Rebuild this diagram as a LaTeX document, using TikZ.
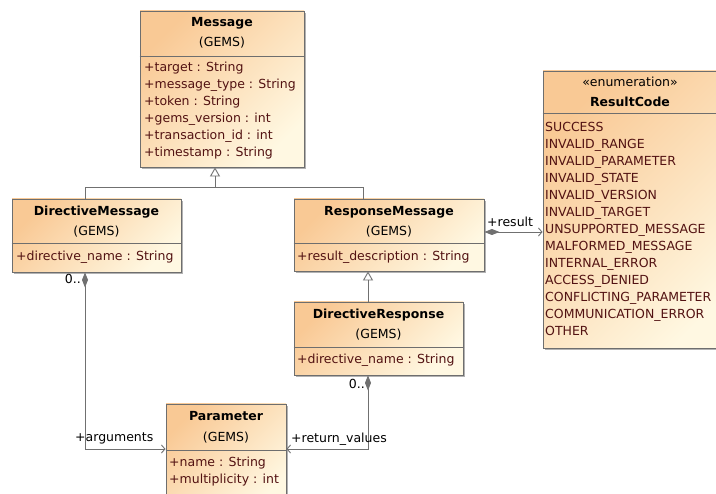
\documentclass[tikz,border=0pt]{standalone}
\usepackage{fontspec}
\setmainfont{DejaVu Sans}
\usetikzlibrary{arrows.meta,shadows}
\definecolor{orA}{HTML}{F9C995}
\definecolor{crB}{HTML}{FFF8E2}
\definecolor{bordc}{HTML}{6E6E6E}
\definecolor{attc}{HTML}{521212}
\definecolor{linec}{HTML}{707070}
\begin{document}
\begin{tikzpicture}[x=1pt,y=-1pt,
  cls/.style={draw=bordc, line width=0.9pt, rectangle, inner sep=0pt,
    top color=orA, bottom color=crB, shading angle=45,
    drop shadow={shadow xshift=1.8pt, shadow yshift=-1.8pt, fill=black, opacity=0.3}},
  sep/.style={draw=bordc, line width=0.8pt},
  txt/.style={font=\fontsize{12.5}{14}\selectfont, inner sep=0pt, text height=10pt, text depth=2pt},
  ttl/.style={txt, font=\fontsize{12.5}{14}\selectfont\bfseries, text=black},
  pkg/.style={txt, text=black},
  att/.style={txt, text=attc, anchor=west},
  lbl/.style={txt, text=black},
  conn/.style={draw=linec, line width=0.9pt},
  gen/.style={conn, -{Triangle[open, length=9pt, width=10pt, fill=white]}},
  comp/.style={conn, {Diamond[length=15pt, width=6pt, fill=linec]}-{Straight Barb[length=3.5pt, width=8pt]}},
]
\useasboundingbox[fill=white] (0,0) rectangle (716,494);

% ---------- Message ----------
\node[cls, minimum width=164pt, minimum height=156pt] (msg) at (222,89) {};
\draw[sep] (msg.west |- 0,56) -- (msg.east |- 0,56);
\node[ttl] (msgt) at (222,23) {Message};
\node[pkg] (msgp) at (222,43) {(GEMS)};
\node[att] (msga1) at (144,68) {+target : String};
\node[att] (msga2) at (144,85) {+message\_type : String};
\node[att] (msga3) at (144,102) {+token : String};
\node[att] (msga4) at (144,119) {+gems\_version : int};
\node[att] (msga5) at (144,136) {+transaction\_id : int};
\node[att] (msga6) at (144,153) {+timestamp : String};

% ---------- DirectiveMessage ----------
\node[cls, minimum width=169pt, minimum height=73pt] (dm) at (96.5,235.5) {};
\draw[sep] (dm.west |- 0,243) -- (dm.east |- 0,243);
\node[ttl] (dmt) at (96.5,212) {DirectiveMessage};
\node[pkg] (dmp) at (96.5,232) {(GEMS)};
\node[att] (dma1) at (16,257) {+directive\_name : String};

% ---------- ResponseMessage ----------
\node[cls, minimum width=190pt, minimum height=72pt] (rm) at (389,235) {};
\draw[sep] (rm.west |- 0,243) -- (rm.east |- 0,243);
\node[ttl] (rmt) at (389,212) {ResponseMessage};
\node[pkg] (rmp) at (389,232) {(GEMS)};
\node[att] (rma1) at (297,257) {+result\_description : String};

% ---------- DirectiveResponse ----------
\node[cls, minimum width=169pt, minimum height=73pt] (dr) at (378.5,338.5) {};
\draw[sep] (dr.west |- 0,347) -- (dr.east |- 0,347);
\node[ttl] (drt) at (378.5,315) {DirectiveResponse};
\node[pkg] (drp) at (378.5,335) {(GEMS)};
\node[att] (dra1) at (297,360) {+directive\_name : String};

% ---------- Parameter ----------
\node[cls, minimum width=120pt, minimum height=104pt] (par) at (226,456) {};
\draw[sep] (par.west |- 0,450) -- (par.east |- 0,450);
\node[ttl] (part) at (226,417) {Parameter};
\node[pkg] (parp) at (226,438) {(GEMS)};
\node[att] (para1) at (169,463) {+name : String};
\node[att] (para2) at (169,480) {+multiplicity : int};

% ---------- ResultCode ----------
\node[cls, minimum width=200pt, minimum height=277pt] (rc) at (643,209.5) {};
\draw[sep] (rc.west |- 0,113) -- (rc.east |- 0,113);
\node[pkg] (rcs) at (630,83) {«enumeration»};
\node[ttl] (rct) at (630,103) {ResultCode};
\node[att] (rcl1) at (545,128) {SUCCESS};
\node[att] (rcl2) at (545,145) {INVALID\_RANGE};
\node[att] (rcl3) at (545,162) {INVALID\_PARAMETER};
\node[att] (rcl4) at (545,179) {INVALID\_STATE};
\node[att] (rcl5) at (545,196) {INVALID\_VERSION};
\node[att] (rcl6) at (545,213) {INVALID\_TARGET};
\node[att] (rcl7) at (545,230) {UNSUPPORTED\_MESSAGE};
\node[att] (rcl8) at (545,247) {MALFORMED\_MESSAGE};
\node[att] (rcl9) at (545,264) {INTERNAL\_ERROR};
\node[att] (rcl10) at (545,281) {ACCESS\_DENIED};
\node[att] (rcl11) at (545,298) {CONFLICTING\_PARAMETER};
\node[att] (rcl12) at (545,315) {COMMUNICATION\_ERROR};
\node[att] (rcl13) at (545,332) {OTHER};

% ---------- Generalizations ----------
\coordinate (gj) at (215,187);
\draw[conn] (dm.north -| 85,0) |- (gj);
\draw[conn] (rm.north -| 363,0) |- (gj);
\draw[gen] (gj) -- (msg.south -| 215,0);
\draw[gen] (dr.north -| 368,0) -- (rm.south -| 368,0);

% ---------- Associations ----------
\draw[comp] (rm.east |- 0,232) -- (rc.west |- 0,232);
\draw[comp] (dm.south -| 85,0) |- (par.west |- 0,449);
\draw[comp] (dr.south -| 368,0) |- (par.east |- 0,449);

% ---------- Labels ----------
\node[lbl, anchor=west] (lres) at (487,223) {+result};
\node[lbl, anchor=east] (lm1) at (81,280) {0..};
\node[lbl, anchor=east] (lm2) at (365,385) {0..};
\node[lbl, anchor=west] (larg) at (75,438) {+arguments};
\node[lbl, anchor=west] (lret) at (291,439) {+return\_values};
\end{tikzpicture}
\end{document}
